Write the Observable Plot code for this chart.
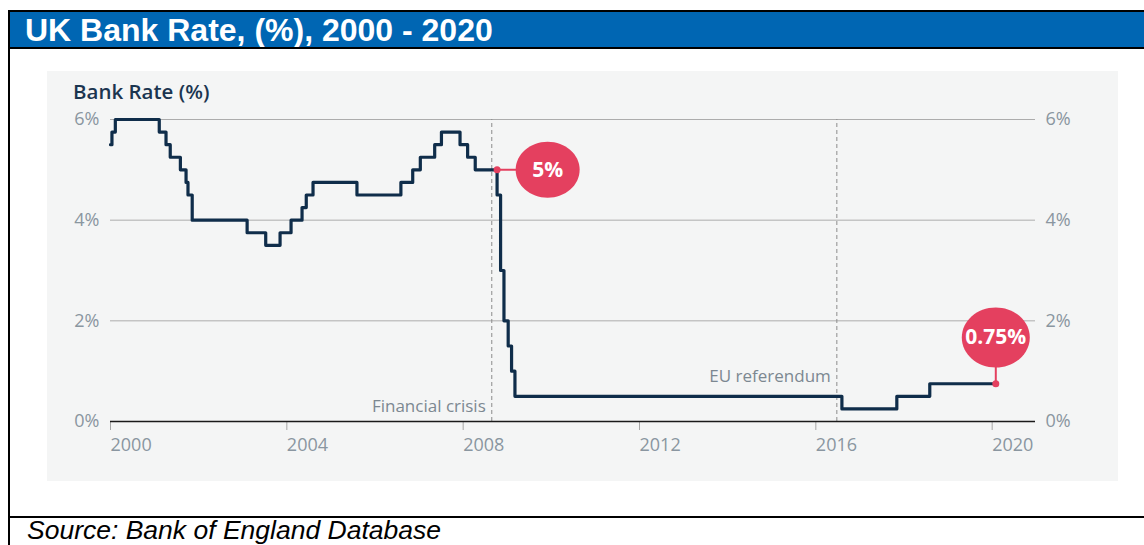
<!DOCTYPE html>
<html>
<head>
<meta charset="utf-8">
<script src="https://cdn.jsdelivr.net/npm/d3@7"></script>
<script src="https://cdn.jsdelivr.net/npm/@observablehq/plot@0.6"></script>
<style>
html, body { margin: 0; padding: 0; background: #fff; overflow: hidden; }
#page { position: relative; width: 1144px; height: 545px; overflow: hidden; background: #fff; }
.bar { position: absolute; background: #000; }
#titlebar { position: absolute; left: 10px; top: 12px; width: 1134px; height: 35px; background: #0066b3;
  color: #fff; font: bold 32px "Liberation Sans", Arial, sans-serif; line-height: 37px; padding-left: 15px; box-sizing: border-box; white-space: nowrap; }
#panel { position: absolute; left: 47px; top: 71px; width: 1071px; height: 410px; background: #f4f5f5; }
#subtitle { position: absolute; left: 26px; top: 6px; font: 600 20.5px "Open Sans", sans-serif; color: #1b3550; white-space: nowrap; }
#chart { position: absolute; left: 0; top: 0; }
#source { position: absolute; left: 27px; top: 517px; font: italic 26.5px "Liberation Sans", Arial, sans-serif; line-height: 27px; color: #000; white-space: nowrap; }
</style>
</head>
<body>
<div id="page">
  <div class="bar" style="left:8px;top:10px;width:1136px;height:2px;"></div>
  <div id="titlebar">UK Bank Rate, (%), 2000 - 2020</div>
  <div class="bar" style="left:8px;top:47px;width:1136px;height:2px;"></div>
  <div class="bar" style="left:8px;top:10px;width:2px;height:540px;"></div>
  <div class="bar" style="left:8px;top:516px;width:1136px;height:2px;"></div>
  <div id="panel">
    <div id="chart"></div>
    <div id="subtitle">Bank Rate (%)</div>
  </div>
  <div id="source">Source: Bank of England Database</div>
</div>
<script>
// ---- Data ----
const rateDates = ["2000-01-01","2000-01-13","2000-02-10","2001-02-08","2001-04-05","2001-05-10","2001-08-02","2001-09-18","2001-10-04","2001-11-08","2003-02-06","2003-07-10","2003-11-06","2004-02-05","2004-05-06","2004-06-10","2004-08-05","2005-08-04","2006-08-03","2006-11-09","2007-01-11","2007-05-10","2007-07-05","2007-12-06","2008-02-07","2008-04-10","2008-10-08","2008-11-06","2008-12-04","2009-01-08","2009-02-05","2009-03-05","2016-08-04","2017-11-02","2018-08-02","2020-01-31"];
const rateValues = [5.5,5.75,6,5.75,5.5,5.25,5,4.75,4.5,4,3.75,3.5,3.75,4,4.25,4.5,4.75,4.5,4.75,5,5.25,5.5,5.75,5.5,5.25,5,4.5,3,2,1.5,1,0.5,0.25,0.5,0.75,0.75];

const yTicks = [0, 2, 4, 6];
const xTickYears = ["2000","2004","2008","2012","2016","2020"];
const xDomain = ["2000-01-01", "2020-12-25"];

const eventNames = ["Financial crisis", "EU referendum"];
const eventDates = ["2008-08-25", "2016-06-23"];
const eventLabelRates = [0.3, 0.9];

const calloutLabels = ["5%", "0.75%"];
const calloutDates = ["2008-10-08", "2020-01-31"];
const calloutRates = [5, 0.75];
const bubbleDates = ["2009-12-01", "2020-01-31"];
const bubbleRates = [5, 1.67];

// ---- Build ----
const parse = d3.utcParse("%Y-%m-%d");
const data = rateDates.map((d, i) => ({date: parse(d), rate: rateValues[i]}));
const events = eventNames.map((n, i) => ({name: n, date: parse(eventDates[i]), ly: eventLabelRates[i]}));
const callouts = calloutLabels.map((l, i) => ({label: l, date: parse(calloutDates[i]), rate: calloutRates[i], bx: parse(bubbleDates[i]), by: bubbleRates[i]}));

function ellipseSymbol(rx, ry) {
  const k = 0.5522847498;
  return {draw(ctx) {
    ctx.moveTo(rx, 0);
    ctx.bezierCurveTo(rx, ry * k, rx * k, ry, 0, ry);
    ctx.bezierCurveTo(-rx * k, ry, -rx, ry * k, -rx, 0);
    ctx.bezierCurveTo(-rx, -ry * k, -rx * k, -ry, 0, -ry);
    ctx.bezierCurveTo(rx * k, -ry, rx, -ry * k, rx, 0);
    ctx.closePath();
  }};
}

const pink = "#e4405f";
const labelGray = "#8a96a0";

const chart = Plot.plot({
  width: 1071,
  height: 410,
  marginLeft: 63,
  marginRight: 83,
  marginTop: 48,
  marginBottom: 60,
  style: {fontFamily: "'Open Sans', sans-serif", fontSize: "18px", background: "transparent", overflow: "visible"},
  x: {type: "utc", domain: xDomain.map(parse)},
  y: {domain: [0, 6]},
  marks: [
    Plot.ruleY(yTicks.filter(v => v > 0), {stroke: "#acacac", strokeWidth: 1}),
    Plot.ruleX(events, {x: "date", y1: 0, y2: 6, stroke: "#8c8c8c", strokeWidth: 1, strokeDasharray: "4,3"}),
    Plot.text(events, {x: "date", y: "ly", text: "name", textAnchor: "end", dx: -6, fill: "#7c8891", fontSize: 17}),
    Plot.axisY({anchor: "left", ticks: yTicks, tickSize: 0, tickPadding: 11, tickFormat: d => d + "%", fill: labelGray, label: null, fontSize: 18}),
    Plot.axisY({anchor: "right", ticks: yTicks, tickSize: 0, tickPadding: 10, tickFormat: d => d + "%", fill: labelGray, label: null, fontSize: 18}),
    Plot.axisX({ticks: xTickYears.map(y => parse(y + "-01-01")), tickSize: 9, tickPadding: 8, tickFormat: "%Y", textAnchor: "start", stroke: "#a6a6a6", fill: labelGray, label: null, fontSize: 18}),
    Plot.ruleY([0], {stroke: "#1a1a1a", strokeWidth: 1.5}),
    Plot.line(data, {x: "date", y: "rate", curve: "step-after", stroke: "#0f2d4a", strokeWidth: 3.2}),
    Plot.link(callouts, {x1: "date", y1: "rate", x2: "bx", y2: "by", stroke: pink, strokeWidth: 2}),
    Plot.dot(callouts, {x: "date", y: "rate", r: 3.5, fill: pink}),
    Plot.dot(callouts.slice(0, 1), {x: "bx", y: "by", symbol: ellipseSymbol(32, 28), fill: pink, r: 30}),
    Plot.dot(callouts.slice(1), {x: "bx", y: "by", symbol: ellipseSymbol(34, 30), fill: pink, r: 30}),
    Plot.text(callouts, {x: "bx", y: "by", text: "label", fill: "#fff", fontWeight: 700, fontSize: 21})
  ]
});
document.getElementById("chart").appendChild(chart);
</script>
</body>
</html>
